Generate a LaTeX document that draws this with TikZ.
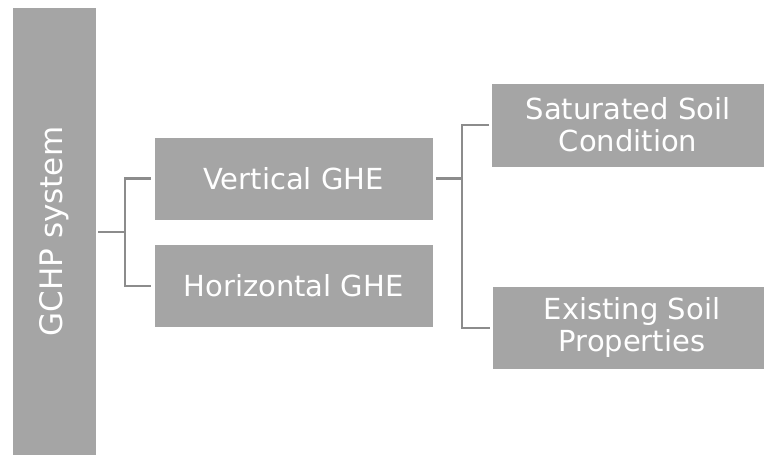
\documentclass[tikz,border=0pt]{standalone}
\usepackage{fontspec}
\setmainfont{DejaVu Sans}
\definecolor{boxgray}{HTML}{A5A5A5}
\definecolor{linegray}{HTML}{8C8C8C}
\begin{document}
\begin{tikzpicture}[x=1pt,y=-1pt,
  gbox/.style={fill=boxgray,draw=none,text=white,font=\fontsize{29}{32}\selectfont,align=center,inner sep=0pt},
  conn/.style={draw=linegray,line width=2.6pt}]
\useasboundingbox (0,0) rectangle (764,455);
\fill[boxgray] (12.5,8) rectangle (96,455);
\node[rotate=90,text=white,font=\fontsize{31}{32}\selectfont] (gchp) at (54,231.5) {GCHP system};
\fill[boxgray] (154.5,137.5) rectangle (432.5,219.5);
\node[gbox] (v) at (293.5,178.5) {Vertical GHE};
\fill[boxgray] (154.5,244.5) rectangle (432.5,327);
\node[gbox] (h) at (293.5,285.75) {Horizontal GHE};
\fill[boxgray] (491.5,84) rectangle (764,166.5);
\node[gbox] (s) at (628,124.5) {Saturated Soil\\Condition};
\fill[boxgray] (493,287) rectangle (764,369);
\node[gbox] (e) at (632,327.5) {Existing Soil\\Properties};
\draw[conn] (98,232) -- (125,232);
\draw[conn] (151,178.5) -| (125,286) -- (151,286);
\draw[conn] (436,178.5) -- (462,178.5);
\draw[conn] (489,125) -| (462,328) -- (490,328);
\end{tikzpicture}
\end{document}
